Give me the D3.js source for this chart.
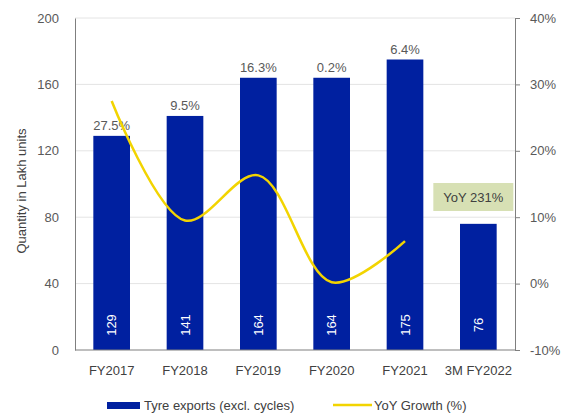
<!DOCTYPE html>
<html><head><meta charset="utf-8">
<script src="https://cdn.jsdelivr.net/npm/d3@7/dist/d3.min.js"></script>
<style>body{margin:0;background:#fff}svg{display:block;font-family:"Liberation Sans",Arial,sans-serif}</style>
</head><body><svg id="c" width="568" height="417"></svg>
<script>
const categories = ["FY2017","FY2018","FY2019","FY2020","FY2021","3M FY2022"];
const exportsQty = [129,141,164,164,175,76];
const yoyGrowth = [27.5,9.5,16.3,0.2,6.4];
const yoyLabels = ["27.5%","9.5%","16.3%","0.2%","6.4%"];
const leftTicks = [0,40,80,120,160,200];
const rightTicks = [-10,0,10,20,30,40];
const calloutText = "YoY 231%";

const FS = 13;
const FF = "Liberation Sans, Arial, sans-serif";
const svg = d3.select("#c");
const m = {l:75, r:515, t:18, b:350};
const x = d3.scaleBand().domain(categories).range([m.l,m.r]).paddingInner(0.5).paddingOuter(0.25);
const y = d3.scaleLinear().domain([0,200]).range([m.b,m.t]);
const y2 = d3.scaleLinear().domain([-10,40]).range([m.b,m.t]);

// gridlines
svg.append("g").selectAll("line").data(leftTicks.slice(1)).join("line")
  .attr("x1",m.l).attr("x2",m.r).attr("y1",d=>y(d)).attr("y2",d=>y(d))
  .attr("stroke","#e4e4e4").attr("stroke-width",1);

// bars
svg.append("g").selectAll("rect").data(exportsQty).join("rect")
  .attr("x",(d,i)=>x(categories[i])).attr("width",x.bandwidth())
  .attr("y",d=>y(d)).attr("height",d=>y(0)-y(d)).attr("fill","#0020a0");

// bar value labels
svg.append("g").selectAll("text").data(exportsQty).join("text")
  .attr("transform",(d,i)=>`translate(${x(categories[i])+x.bandwidth()/2+4.5},${y(0)-25}) rotate(-90)`)
  .attr("text-anchor","middle").attr("fill","#fff").attr("font-size",FS).text(d=>d);

// pct labels above bars
svg.append("g").selectAll("text").data(yoyLabels).join("text")
  .attr("x",(d,i)=>x(categories[i])+x.bandwidth()/2).attr("y",(d,i)=>y(exportsQty[i])-6)
  .attr("text-anchor","middle").attr("fill","#595959").attr("font-size",FS).text(d=>d);

// line
const line = d3.line().x((d,i)=>x(categories[i])+x.bandwidth()/2).y(d=>y2(d)).curve(d3.curveCatmullRom.alpha(0.5));
svg.append("path").datum(yoyGrowth).attr("d",line).attr("fill","none")
  .attr("stroke","#f2d400").attr("stroke-width",2.5);

// axes
const la = d3.axisLeft(y).tickValues(leftTicks).tickSize(0).tickPadding(16);
const gl = svg.append("g").attr("transform",`translate(${m.l},0)`).call(la);
gl.select(".domain").attr("stroke","#7f7f7f");
gl.selectAll("text").attr("fill","#595959").attr("font-size",FS).attr("font-family",FF);

const ra = d3.axisRight(y2).tickValues(rightTicks).tickSize(5).tickPadding(10).tickFormat(d=>d+"%");
const gr = svg.append("g").attr("transform",`translate(${m.r},0)`).call(ra);
gr.select(".domain").attr("stroke","#7f7f7f");
gr.selectAll("line").attr("stroke","#7f7f7f");
gr.selectAll("text").attr("fill","#595959").attr("font-size",FS).attr("font-family",FF);

const ba = d3.axisBottom(x).tickSize(0).tickPadding(16);
const gb = svg.append("g").attr("transform",`translate(0,${m.b})`).call(ba);
gb.select(".domain").attr("stroke","#7f7f7f").attr("d",`M${m.l},0H${m.r}`);
gb.selectAll("text").attr("fill","#404040").attr("font-size",FS).attr("font-family",FF);

// axis title
svg.append("text").attr("transform","translate(26,191) rotate(-90)").attr("text-anchor","middle")
  .attr("fill","#404040").attr("font-size",FS).text("Quantity in Lakh units");

// callout
const cx = x(categories[5])+x.bandwidth()/2;
svg.append("rect").attr("x",cx-45).attr("y",183).attr("width",80).attr("height",28).attr("fill","#d7e0b4");
svg.append("text").attr("x",cx-5).attr("y",202).attr("text-anchor","middle").attr("fill","#404040")
  .attr("font-size",FS).text(calloutText);

// legend
const lg = svg.append("g");
lg.append("rect").attr("x",107).attr("y",402).attr("width",33).attr("height",7).attr("fill","#0020a0");
lg.append("text").attr("x",144).attr("y",410).attr("fill","#404040").attr("font-size",FS).text("Tyre exports (excl. cycles)");
lg.append("line").attr("x1",333).attr("x2",372).attr("y1",405).attr("y2",405).attr("stroke","#f2d400").attr("stroke-width",2.5);
lg.append("text").attr("x",374).attr("y",410).attr("fill","#404040").attr("font-size",FS).text("YoY Growth (%)");
</script></body></html>
